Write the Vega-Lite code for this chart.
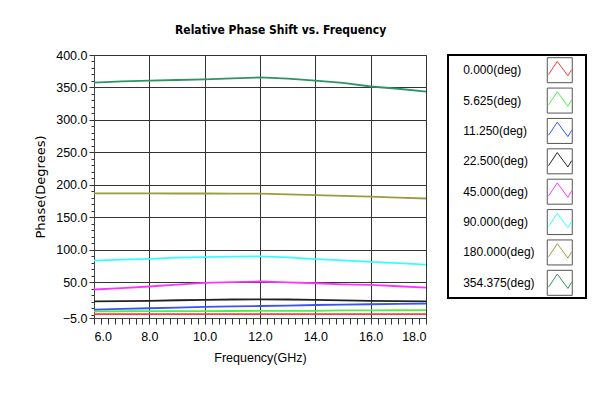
{
  "$schema": "https://vega.github.io/schema/vega-lite/v6.json",
  "background": "white",
  "padding": {"left": 34, "top": 23, "right": 5, "bottom": 5},
  "autosize": {"type": "pad"},
  "title": {"text": "Relative Phase Shift vs. Frequency", "font": "DejaVu Sans Condensed, sans-serif", "fontSize": 12, "fontWeight": "bold", "color": "black", "offset": 8, "anchor": "middle", "dx": -30},
  "datasets": {
    "lines": [
      {"s": "0.000(deg)", "f": 6, "p": 1}, {"s": "0.000(deg)", "f": 7, "p": 1}, {"s": "0.000(deg)", "f": 8, "p": 1}, {"s": "0.000(deg)", "f": 9, "p": 1}, {"s": "0.000(deg)", "f": 10, "p": 1}, {"s": "0.000(deg)", "f": 11, "p": 1}, {"s": "0.000(deg)", "f": 12, "p": 1}, {"s": "0.000(deg)", "f": 13, "p": 1}, {"s": "0.000(deg)", "f": 14, "p": 1}, {"s": "0.000(deg)", "f": 15, "p": 1}, {"s": "0.000(deg)", "f": 16, "p": 1}, {"s": "0.000(deg)", "f": 17, "p": 1}, {"s": "0.000(deg)", "f": 18, "p": 1},
      {"s": "5.625(deg)", "f": 6, "p": 5.3}, {"s": "5.625(deg)", "f": 7, "p": 5.4}, {"s": "5.625(deg)", "f": 8, "p": 5.5}, {"s": "5.625(deg)", "f": 9, "p": 5.6}, {"s": "5.625(deg)", "f": 10, "p": 5.7}, {"s": "5.625(deg)", "f": 11, "p": 5.8}, {"s": "5.625(deg)", "f": 12, "p": 5.9}, {"s": "5.625(deg)", "f": 13, "p": 6.0}, {"s": "5.625(deg)", "f": 14, "p": 6.1}, {"s": "5.625(deg)", "f": 15, "p": 6.7}, {"s": "5.625(deg)", "f": 16, "p": 6.8}, {"s": "5.625(deg)", "f": 17, "p": 6.9}, {"s": "5.625(deg)", "f": 18, "p": 7.0},
      {"s": "11.250(deg)", "f": 6, "p": 8}, {"s": "11.250(deg)", "f": 7, "p": 9}, {"s": "11.250(deg)", "f": 8, "p": 10}, {"s": "11.250(deg)", "f": 9, "p": 11}, {"s": "11.250(deg)", "f": 10, "p": 12}, {"s": "11.250(deg)", "f": 11, "p": 12.8}, {"s": "11.250(deg)", "f": 12, "p": 13.5}, {"s": "11.250(deg)", "f": 13, "p": 14.2}, {"s": "11.250(deg)", "f": 14, "p": 15}, {"s": "11.250(deg)", "f": 15, "p": 15.6}, {"s": "11.250(deg)", "f": 16, "p": 16.2}, {"s": "11.250(deg)", "f": 17, "p": 16.7}, {"s": "11.250(deg)", "f": 18, "p": 17.2},
      {"s": "22.500(deg)", "f": 6, "p": 20.5}, {"s": "22.500(deg)", "f": 7, "p": 21}, {"s": "22.500(deg)", "f": 8, "p": 21.5}, {"s": "22.500(deg)", "f": 9, "p": 22.3}, {"s": "22.500(deg)", "f": 10, "p": 23}, {"s": "22.500(deg)", "f": 11, "p": 23.5}, {"s": "22.500(deg)", "f": 12, "p": 23.8}, {"s": "22.500(deg)", "f": 13, "p": 23.5}, {"s": "22.500(deg)", "f": 14, "p": 23}, {"s": "22.500(deg)", "f": 15, "p": 22.2}, {"s": "22.500(deg)", "f": 16, "p": 21.5}, {"s": "22.500(deg)", "f": 17, "p": 21}, {"s": "22.500(deg)", "f": 18, "p": 20.5},
      {"s": "45.000(deg)", "f": 6, "p": 38.9}, {"s": "45.000(deg)", "f": 7, "p": 40.9}, {"s": "45.000(deg)", "f": 8, "p": 43.5}, {"s": "45.000(deg)", "f": 9, "p": 46.5}, {"s": "45.000(deg)", "f": 10, "p": 49.1}, {"s": "45.000(deg)", "f": 11, "p": 50.2}, {"s": "45.000(deg)", "f": 12, "p": 51.2}, {"s": "45.000(deg)", "f": 13, "p": 49.8}, {"s": "45.000(deg)", "f": 14, "p": 48.5}, {"s": "45.000(deg)", "f": 15, "p": 46.8}, {"s": "45.000(deg)", "f": 16, "p": 46}, {"s": "45.000(deg)", "f": 17, "p": 43.9}, {"s": "45.000(deg)", "f": 18, "p": 41.9},
      {"s": "90.000(deg)", "f": 6, "p": 83.3}, {"s": "90.000(deg)", "f": 7, "p": 84.9}, {"s": "90.000(deg)", "f": 8, "p": 86}, {"s": "90.000(deg)", "f": 9, "p": 88}, {"s": "90.000(deg)", "f": 10, "p": 88.7}, {"s": "90.000(deg)", "f": 11, "p": 89.5}, {"s": "90.000(deg)", "f": 12, "p": 90}, {"s": "90.000(deg)", "f": 13, "p": 88.3}, {"s": "90.000(deg)", "f": 14, "p": 85.6}, {"s": "90.000(deg)", "f": 15, "p": 83.8}, {"s": "90.000(deg)", "f": 16, "p": 81.5}, {"s": "90.000(deg)", "f": 17, "p": 79.5}, {"s": "90.000(deg)", "f": 18, "p": 77.2},
      {"s": "180.000(deg)", "f": 6, "p": 186.8}, {"s": "180.000(deg)", "f": 7, "p": 186.8}, {"s": "180.000(deg)", "f": 8, "p": 186.8}, {"s": "180.000(deg)", "f": 9, "p": 186.7}, {"s": "180.000(deg)", "f": 10, "p": 186.7}, {"s": "180.000(deg)", "f": 11, "p": 186.6}, {"s": "180.000(deg)", "f": 12, "p": 186.5}, {"s": "180.000(deg)", "f": 13, "p": 185.3}, {"s": "180.000(deg)", "f": 14, "p": 184.3}, {"s": "180.000(deg)", "f": 15, "p": 183.2}, {"s": "180.000(deg)", "f": 16, "p": 181.8}, {"s": "180.000(deg)", "f": 17, "p": 180.5}, {"s": "180.000(deg)", "f": 18, "p": 179},
      {"s": "354.375(deg)", "f": 6, "p": 357.5}, {"s": "354.375(deg)", "f": 7, "p": 359.5}, {"s": "354.375(deg)", "f": 8, "p": 360.5}, {"s": "354.375(deg)", "f": 9, "p": 361.5}, {"s": "354.375(deg)", "f": 10, "p": 362.5}, {"s": "354.375(deg)", "f": 11, "p": 364}, {"s": "354.375(deg)", "f": 12, "p": 365.5}, {"s": "354.375(deg)", "f": 13, "p": 363.5}, {"s": "354.375(deg)", "f": 14, "p": 360.5}, {"s": "354.375(deg)", "f": 15, "p": 357}, {"s": "354.375(deg)", "f": 16, "p": 351.5}, {"s": "354.375(deg)", "f": 17, "p": 348}, {"s": "354.375(deg)", "f": 18, "p": 343.5}
    ],
    "legend": [
      {"s": "0.000(deg)"}, {"s": "5.625(deg)"}, {"s": "11.250(deg)"}, {"s": "22.500(deg)"},
      {"s": "45.000(deg)"}, {"s": "90.000(deg)"}, {"s": "180.000(deg)"}, {"s": "354.375(deg)"}
    ]
  },
  "hconcat": [
    {
      "vconcat": [
        {
          "width": 332,
          "height": 263,
          "data": {"name": "lines"},
          "title": {"text": " ", "fontSize": 4, "offset": 0},
          "view": {"stroke": "#777", "strokeWidth": 1},
          "mark": {"type": "line", "strokeWidth": 1.8},
          "encoding": {
            "x": {
              "field": "f", "type": "quantitative",
              "scale": {"domain": [6, 18], "nice": false, "zero": false},
              "axis": {
                "title": "Frequency(GHz)",
                "values": [6, 6.25, 6.5, 6.75, 7, 7.25, 7.5, 7.75, 8, 8.25, 8.5, 8.75, 9, 9.25, 9.5, 9.75, 10, 10.25, 10.5, 10.75, 11, 11.25, 11.5, 11.75, 12, 12.25, 12.5, 12.75, 13, 13.25, 13.5, 13.75, 14, 14.25, 14.5, 14.75, 15, 15.25, 15.5, 15.75, 16, 16.25, 16.5, 16.75, 17, 17.25, 17.5, 17.75, 18],
                "labelExpr": "datum.value % 2 === 0 ? format(datum.value, '.1f') : ''",
                "tickSize": 6,
                "labelPadding": 6,
                "titlePadding": 9,
                "grid": true,
                "gridOpacity": {"condition": {"test": "datum.value % 2 === 0", "value": 1}, "value": 0}
              }
            },
            "y": {
              "field": "p", "type": "quantitative",
              "scale": {"domain": [-5, 400], "nice": false, "zero": false},
              "axis": {
                "title": "Phase(Degrees)",
                "titleFont": "DejaVu Sans",
                "titleFontSize": 13,
                "titlePadding": 8,
                "values": [-5, 0, 10, 20, 30, 40, 50, 60, 70, 80, 90, 100, 110, 120, 130, 140, 150, 160, 170, 180, 190, 200, 210, 220, 230, 240, 250, 260, 270, 280, 290, 300, 310, 320, 330, 340, 350, 360, 370, 380, 390, 400],
                "labelExpr": "(datum.value === -5 || (datum.value % 50 === 0 && datum.value !== 0)) ? format(datum.value, '.1f') : ''",
                "tickSize": {"condition": {"test": "datum.value === -5 || (datum.value % 50 === 0 && datum.value !== 0)", "value": 5}, "value": 3},
                "labelPadding": 2,
                "grid": true,
                "gridOpacity": {"condition": {"test": "datum.value % 50 === 0 && datum.value !== 0", "value": 1}, "value": 0}
              }
            },
            "color": {
              "field": "s", "type": "nominal",
              "scale": {
                "domain": ["0.000(deg)", "5.625(deg)", "11.250(deg)", "22.500(deg)", "45.000(deg)", "90.000(deg)", "180.000(deg)", "354.375(deg)"],
                "range": ["#ff3b3b", "#4cf04c", "#3355ff", "#222222", "#ff33ff", "#33ffff", "#9c9c3c", "#2e9464"]
              },
              "legend": null
            }
          }
        }
      ]
    },
    {
      "width": 138,
      "height": 243,
      "data": {"name": "legend"},
      "view": {"stroke": "black", "strokeWidth": 2},
      "encoding": {
        "y": {
          "field": "s", "type": "nominal",
          "scale": {"domain": ["0.000(deg)", "5.625(deg)", "11.250(deg)", "22.500(deg)", "45.000(deg)", "90.000(deg)", "180.000(deg)", "354.375(deg)"]},
          "axis": null
        }
      },
      "layer": [
        {
          "mark": {"type": "text", "align": "left", "baseline": "middle", "fontSize": 12, "font": "Liberation Sans", "color": "black"},
          "encoding": {
            "x": {"datum": 0.11, "type": "quantitative", "scale": {"domain": [0, 1]}, "axis": null},
            "text": {"field": "s"}
          }
        },
        {
          "mark": {"type": "point", "shape": "square", "size": 625, "filled": true, "fill": "white", "stroke": "#555", "strokeWidth": 1, "opacity": 1},
          "encoding": {
            "x": {"datum": 0.81, "type": "quantitative", "scale": {"domain": [0, 1]}, "axis": null}
          }
        },
        {
          "mark": {"type": "point", "shape": "M-0.9,0.35L-0.2,-0.7L0.65,0.45L0.95,-0.05", "size": 625, "filled": false, "strokeWidth": 1, "opacity": 1},
          "encoding": {
            "x": {"datum": 0.81, "type": "quantitative", "scale": {"domain": [0, 1]}, "axis": null},
            "color": {
              "field": "s", "type": "nominal",
              "scale": {
                "domain": ["0.000(deg)", "5.625(deg)", "11.250(deg)", "22.500(deg)", "45.000(deg)", "90.000(deg)", "180.000(deg)", "354.375(deg)"],
                "range": ["#ff3b3b", "#4cf04c", "#3355ff", "#222222", "#ff33ff", "#33ffff", "#9c9c3c", "#2e9464"]
              },
              "legend": null
            }
          }
        }
      ]
    }
  ],
  "spacing": 16,
  "config": {
    "axis": {
      "domainColor": "#444",
      "tickColor": "#333",
      "gridColor": "#333",
      "gridWidth": 1,
      "labelColor": "black",
      "titleColor": "black",
      "labelFont": "Liberation Sans",
      "labelFontSize": 12.5,
      "titleFont": "Liberation Sans",
      "titleFontSize": 12.5,
      "titleFontWeight": "normal"
    }
  }
}
